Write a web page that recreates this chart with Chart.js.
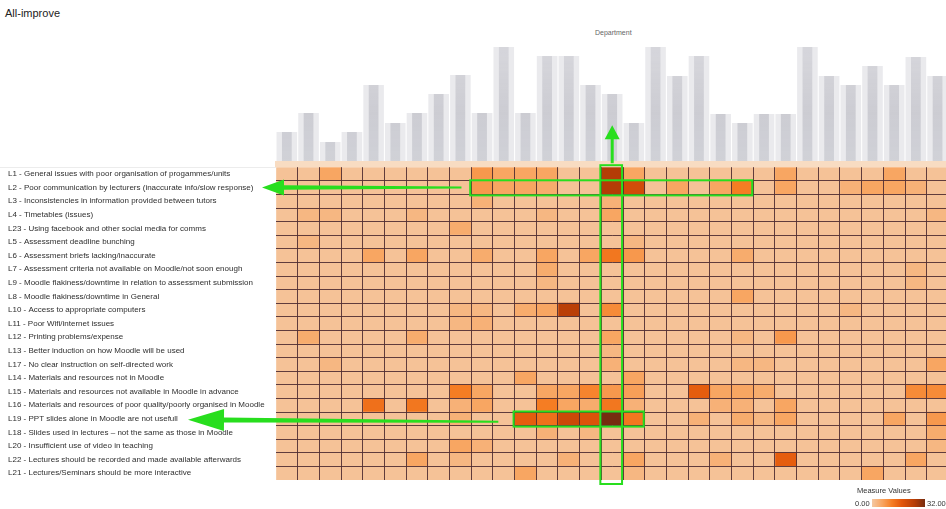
<!DOCTYPE html>
<html>
<head>
<meta charset="utf-8">
<title>All-improve</title>
<script src="https://cdn.jsdelivr.net/npm/chart.js@4.4.0/dist/chart.umd.min.js"></script>
<style>
  html, body { margin: 0; padding: 0; background: #fff; overflow: hidden; }
  body { width: 946px; height: 509px; position: relative; font-family: "Liberation Sans", Arial, sans-serif; }
  canvas { display: block; position: absolute; left: 0; top: 0; }
  #title { position: absolute; left: 5px; top: 7px; font-size: 11px; color: #222; }
  #dept-title { position: absolute; left: 595px; top: 29px; font-size: 7px; color: #666; }
  #strip { position: absolute; left: 275px; top: 161px; width: 675px; height: 6px; background: #f8dcc2; }
  #rule { position: absolute; left: 0; top: 167px; width: 276px; height: 1px; background: #ececec; }
  .leg { position: absolute; font-size: 7.5px; color: #333; white-space: nowrap; }
  #leg-bar { position: absolute; left: 872px; top: 499px; width: 53px; height: 8px; }
</style>
</head>
<body>
<div id="title">All-improve</div>
<div id="dept-title">Department</div>
<canvas id="dept" width="950" height="165"></canvas>
<div id="strip"></div>
<div id="rule"></div>
<canvas id="heat" width="950" height="509"></canvas>
<div class="leg" style="left:857px; top:486px;">Measure Values</div>
<div class="leg" style="left:855px; top:499px;">0.00</div>
<div id="leg-bar"></div>
<div class="leg" style="left:927px; top:499px;">32.00</div>

<script>
// rows of the heatmap (top to bottom)
const rowLabels = [
  'L1 - General issues with poor organisation of progammes/units',
  'L2 - Poor communication by lecturers (inaccurate info/slow response)',
  'L3 - Inconsistencies in information provided between tutors',
  'L4 - Timetables (issues)',
  'L23 - Using facebook and other social media for comms',
  'L5 - Assessment deadline bunching',
  'L6 - Assessment briefs lacking/inaccurate',
  'L7 - Assessment criteria not available on Moodle/not soon enough',
  'L9 - Moodle flakiness/downtime in relation to assessment submission',
  'L8 - Moodle flakiness/downtime in General',
  'L10 - Access to appropriate computers',
  'L11 - Poor Wifi/internet issues',
  'L12 - Printing problems/expense',
  'L13 - Better induction on how Moodle will be used',
  'L17 - No clear instruction on self-directed work',
  'L14 - Materials and resources not in Moodle',
  'L15 - Materials and resources not available in Moodle in advance',
  'L16 - Materials and resources of poor quality/poorly organised in Moodle',
  'L19 - PPT slides alone in Moodle are not usefull',
  'L18 - Slides used in lectures \u2013 not the same as those in Moodle',
  'L20 - Insufficient use of video in teaching',
  'L22 - Lectures should be recorded and made available afterwards',
  'L21 - Lectures/Seminars should be more interactive'
];

// departments (column headers are blurred in the source)
const deptLabels = Array.from({ length: 31 }, (_, i) => 'Dept ' + (i + 1));

// height of the blurred department header bars
const deptCounts = [33, 52, 23, 33, 80, 42, 52, 71, 90, 52, 118, 52, 109, 109, 80, 71,
                    42, 118, 89, 109, 51, 42, 51, 51, 118, 89, 80, 99, 80, 108, 89];

// measure values, one array per row, one entry per department
const cellValues = [
  [1,1,6,1,1,1,1,1,1,8,6,6,6,1,1,26,6,1,1,1,1,1,1,6,1,1,1,1,6,1,1],
  [1,1,1,1,1,1,1,1,1,8,6,6,5,1,1,26,21,1,6,1,6,12,1,6,1,1,4,6,6,4,1],
  [1,1,1,1,1,1,1,1,1,4,1,1,1,1,1,4,1,1,1,1,1,1,1,1,1,1,1,1,1,1,1],
  [1,3,3,1,1,1,3,1,1,1,1,1,3,1,1,6,1,1,1,1,1,1,1,1,1,1,1,1,1,1,3],
  [1,1,1,1,1,1,1,1,5,1,1,1,1,1,1,1,1,1,1,1,1,1,1,1,1,1,1,1,1,1,1],
  [1,3,1,1,1,1,1,1,1,1,1,1,1,1,1,1,3,1,1,1,1,1,1,1,1,1,1,1,1,1,1],
  [1,1,1,1,6,1,6,1,1,5,1,1,6,1,6,13,8,1,1,1,1,5,1,1,1,1,1,1,1,1,1],
  [1,1,1,1,1,1,1,1,1,1,1,1,5,1,1,1,1,1,1,1,1,1,1,1,1,1,1,1,1,3,1],
  [1,1,1,1,1,1,1,1,1,1,1,1,3,1,1,1,1,1,1,1,1,1,1,1,1,1,1,1,1,3,1],
  [1,1,1,1,1,1,1,1,1,1,1,1,1,1,1,1,1,1,1,1,1,6,1,1,1,1,1,1,1,1,1],
  [1,1,1,1,1,1,1,1,3,3,1,5,6,25,1,10,1,1,1,1,1,1,1,1,1,1,3,1,1,1,1],
  [1,1,1,1,1,1,1,1,3,4,1,1,1,1,1,1,1,1,1,1,1,1,1,1,1,1,1,1,1,1,1],
  [1,5,1,1,1,1,5,1,1,1,1,1,1,1,1,6,1,1,1,1,1,3,1,8,1,1,1,1,1,1,1],
  [1,1,1,1,1,1,1,1,1,1,1,1,1,1,1,3,1,1,1,1,1,1,1,1,1,1,1,1,1,1,1],
  [1,1,3,1,1,1,1,1,1,1,1,1,1,1,1,4,1,1,1,1,1,3,3,1,1,1,1,1,1,1,6],
  [1,1,1,1,1,1,1,1,1,1,1,6,1,1,1,1,6,1,1,1,1,1,1,1,1,1,1,1,1,1,1],
  [1,1,1,1,1,1,1,1,12,6,1,1,6,6,11,8,7,1,1,17,6,6,5,1,1,1,1,1,1,10,10],
  [1,1,1,1,14,1,13,1,4,6,1,1,12,6,5,13,4,1,1,1,4,4,1,6,1,1,1,1,1,1,1],
  [1,1,1,1,1,1,1,1,4,1,1,17,14,22,19,32,13,1,1,4,1,5,3,6,1,1,1,1,6,1,8],
  [1,1,1,1,1,1,1,1,1,1,1,1,4,1,3,1,1,1,1,1,1,1,1,1,1,1,1,1,1,1,5],
  [1,1,1,1,1,1,1,1,6,4,1,1,1,1,1,1,1,1,1,1,1,1,1,1,1,1,1,1,1,1,3],
  [1,1,1,1,1,1,6,1,3,1,1,1,1,4,1,1,6,1,1,1,4,1,1,17,1,1,1,1,1,6,1],
  [1,1,1,1,1,1,1,1,1,1,1,6,1,1,1,1,3,1,1,1,1,1,1,1,1,1,1,6,1,1,1]
];

const scaleMax = 32;
const colorStops = [
  [0,  [244, 200, 162]],
  [6,  [248, 166, 98]],
  [12, [245, 125, 35]],
  [18, [226, 86, 10]],
  [26, [180, 60, 6]],
  [32, [118, 44, 16]]
];

function cellColor(v) {
  for (let k = 1; k < colorStops.length; k++) {
    const [v1, c1] = colorStops[k];
    const [v0, c0] = colorStops[k - 1];
    if (v <= v1) {
      const t = (v - v0) / (v1 - v0);
      const c = c0.map((a, i) => Math.round(a + (c1[i] - a) * t));
      return 'rgb(' + c.join(',') + ')';
    }
  }
  return 'rgb(' + colorStops[colorStops.length - 1][1].join(',') + ')';
}

document.getElementById('leg-bar').style.background =
  'linear-gradient(to right,' +
  colorStops.map(s => 'rgb(' + s[1].join(',') + ') ' + (s[0] / scaleMax * 100) + '%').join(',') + ')';

const green = 'rgb(40,222,30)';
const gridCol = 'rgba(80,45,50,0.9)';
const font = '"Liberation Sans", Arial, sans-serif';

// green call-outs, in column/row units
const boxes = [
  { c0: 9, c1: 21, r0: 1, r1: 1 },
  { c0: 11, c1: 16, r0: 18, r1: 18 },
  { c0: 15, c1: 15, r0: null, r1: null }
];

function arrow(ctx, tx, ty, sx, sy, headLen, headHalf, wHead, wTail) {
  const dx = sx - tx, dy = sy - ty;
  const len = Math.hypot(dx, dy);
  const ux = dx / len, uy = dy / len;
  const nx = -uy, ny = ux;
  const bx = tx + ux * headLen, by = ty + uy * headLen;
  ctx.beginPath();
  ctx.moveTo(tx, ty);
  ctx.lineTo(bx + nx * headHalf, by + ny * headHalf);
  ctx.lineTo(bx + nx * wHead / 2, by + ny * wHead / 2);
  ctx.lineTo(sx + nx * wTail / 2, sy + ny * wTail / 2);
  ctx.lineTo(sx - nx * wTail / 2, sy - ny * wTail / 2);
  ctx.lineTo(bx - nx * wHead / 2, by - ny * wHead / 2);
  ctx.lineTo(bx - nx * headHalf, by - ny * headHalf);
  ctx.closePath();
  ctx.fill();
}

const greenMarks = {
  id: 'greenMarks',
  afterDraw(chart) {
    const { ctx, chartArea } = chart;
    const x = chart.scales.x, y = chart.scales.y;
    const rowH = y.getPixelForValue(1) - y.getPixelForValue(0);
    ctx.save();
    ctx.strokeStyle = green;
    ctx.fillStyle = green;
    ctx.lineWidth = 2;
    boxes.forEach(b => {
      const x0 = x.getPixelForValue(b.c0) - 1;
      const x1 = x.getPixelForValue(b.c1 + 1) - 1;
      const y0 = b.r0 === null ? chartArea.top - 2 : y.getPixelForValue(b.r0) - rowH / 2 - 0.5;
      const y1 = b.r1 === null ? chartArea.bottom + 4 : y.getPixelForValue(b.r1) + rowH / 2 + 1;
      ctx.strokeRect(x0, y0, x1 - x0, y1 - y0);
    });
    const r1 = y.getPixelForValue(1);
    arrow(ctx, chartArea.left - 14, r1, x.getPixelForValue(8.55), r1, 22, 8, 4.5, 2);
    const r18 = y.getPixelForValue(18);
    arrow(ctx, chartArea.left - 88, r18 + 1, x.getPixelForValue(10.25), r18 + 3, 36, 11, 5, 2);
    const cx = x.getPixelForValue(15.5);
    arrow(ctx, cx, chartArea.top - 42, cx, chartArea.top - 4, 14, 7.5, 3, 3);
    ctx.restore();
  }
};

// blurred department header bars
const deptCtx = document.getElementById('dept').getContext('2d');
const barFade = deptCtx.createLinearGradient(0, 35, 0, 165);
barFade.addColorStop(0, 'rgba(190,190,198,0.45)');
barFade.addColorStop(0.6, 'rgba(175,175,184,0.6)');
barFade.addColorStop(1, 'rgba(180,184,192,0.55)');

new Chart(deptCtx, {
  type: 'bar',
  data: {
    labels: deptLabels,
    datasets: [
      { data: deptCounts, backgroundColor: 'rgba(200,200,208,0.38)', barPercentage: 0.95, categoryPercentage: 1, grouped: false },
      { data: deptCounts, backgroundColor: barFade, barPercentage: 0.45, categoryPercentage: 1, grouped: false }
    ]
  },
  options: {
    responsive: false,
    animation: false,
    layout: { padding: { left: 276, right: 1.6, top: 35, bottom: 0 } },
    plugins: { legend: { display: false }, tooltip: { enabled: false } },
    scales: {
      x: { display: false },
      y: { display: false, min: 0, max: 130 }
    }
  }
});

// heatmap: each department is a stacked unit segment in every row
new Chart(document.getElementById('heat'), {
  type: 'bar',
  data: {
    labels: rowLabels,
    datasets: deptLabels.map((d, j) => ({
      label: d,
      data: rowLabels.map(() => 1),
      backgroundColor: rowLabels.map((r, i) => cellColor(cellValues[i][j])),
      borderWidth: 0,
      barPercentage: 1,
      categoryPercentage: 1
    }))
  },
  options: {
    indexAxis: 'y',
    responsive: false,
    animation: false,
    layout: { padding: { left: 8, top: 167.2, right: 1.6, bottom: 29 } },
    plugins: { legend: { display: false }, tooltip: { enabled: false } },
    scales: {
      x: {
        stacked: true, min: 0, max: deptLabels.length,
        ticks: { display: false, stepSize: 1 },
        grid: {
          z: 1,
          color: c => c.index === 0 ? 'rgba(0,0,0,0)' : gridCol,
          lineWidth: 1, drawTicks: false
        },
        border: { display: false },
        afterFit: a => { a.height = 0; }
      },
      y: {
        stacked: true,
        ticks: { crossAlign: 'far', color: '#2e2e2e', padding: 0, font: { family: font, size: 8 } },
        grid: {
          z: 1,
          offset: true,
          color: c => (c.index === undefined || c.index === 0) ? 'rgba(0,0,0,0)' : gridCol,
          lineWidth: 1, drawTicks: false
        },
        border: { display: false },
        afterFit: a => { a.width = 268; }
      }
    }
  },
  plugins: [greenMarks]
});
</script>
</body>
</html>
